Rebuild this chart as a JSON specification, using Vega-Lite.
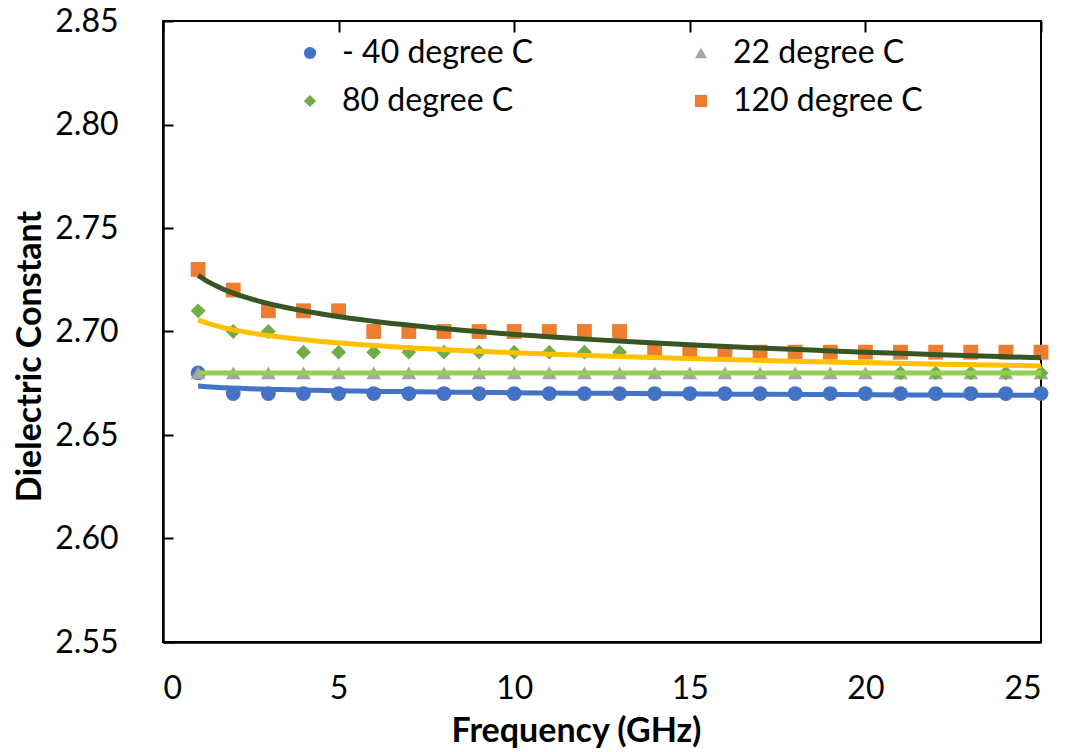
{
  "$schema": "https://vega.github.io/schema/vega-lite/v6.json",
  "width": 878,
  "height": 621,
  "autosize": {"type": "none"},
  "padding": {"left": 163, "top": 21, "right": 24, "bottom": 110},
  "background": "white",
  "config": {
    "font": "Lato",
    "view": {"stroke": "#000", "strokeWidth": 2},
    "axis": {
      "domainColor": "#000", "domainWidth": 2.5,
      "ticks": false,
      "labelFont": "Lato", "labelFontSize": 32, "labelColor": "#000",
      "titleFont": "Lato", "titleFontSize": 34, "titleFontWeight": "bold", "titleColor": "#000"
    },
    "legend": {
      "labelFont": "Lato", "labelFontSize": 32, "labelColor": "#000", "labelLimit": 0
    }
  },
  "data": {
    "values": [
      {"series": "- 40 degree C", "freq": 1, "value": 2.68},
      {"series": "- 40 degree C", "freq": 2, "value": 2.67},
      {"series": "- 40 degree C", "freq": 3, "value": 2.67},
      {"series": "- 40 degree C", "freq": 4, "value": 2.67},
      {"series": "- 40 degree C", "freq": 5, "value": 2.67},
      {"series": "- 40 degree C", "freq": 6, "value": 2.67},
      {"series": "- 40 degree C", "freq": 7, "value": 2.67},
      {"series": "- 40 degree C", "freq": 8, "value": 2.67},
      {"series": "- 40 degree C", "freq": 9, "value": 2.67},
      {"series": "- 40 degree C", "freq": 10, "value": 2.67},
      {"series": "- 40 degree C", "freq": 11, "value": 2.67},
      {"series": "- 40 degree C", "freq": 12, "value": 2.67},
      {"series": "- 40 degree C", "freq": 13, "value": 2.67},
      {"series": "- 40 degree C", "freq": 14, "value": 2.67},
      {"series": "- 40 degree C", "freq": 15, "value": 2.67},
      {"series": "- 40 degree C", "freq": 16, "value": 2.67},
      {"series": "- 40 degree C", "freq": 17, "value": 2.67},
      {"series": "- 40 degree C", "freq": 18, "value": 2.67},
      {"series": "- 40 degree C", "freq": 19, "value": 2.67},
      {"series": "- 40 degree C", "freq": 20, "value": 2.67},
      {"series": "- 40 degree C", "freq": 21, "value": 2.67},
      {"series": "- 40 degree C", "freq": 22, "value": 2.67},
      {"series": "- 40 degree C", "freq": 23, "value": 2.67},
      {"series": "- 40 degree C", "freq": 24, "value": 2.67},
      {"series": "- 40 degree C", "freq": 25, "value": 2.67},
      {"series": "22 degree C", "freq": 1, "value": 2.68},
      {"series": "22 degree C", "freq": 2, "value": 2.68},
      {"series": "22 degree C", "freq": 3, "value": 2.68},
      {"series": "22 degree C", "freq": 4, "value": 2.68},
      {"series": "22 degree C", "freq": 5, "value": 2.68},
      {"series": "22 degree C", "freq": 6, "value": 2.68},
      {"series": "22 degree C", "freq": 7, "value": 2.68},
      {"series": "22 degree C", "freq": 8, "value": 2.68},
      {"series": "22 degree C", "freq": 9, "value": 2.68},
      {"series": "22 degree C", "freq": 10, "value": 2.68},
      {"series": "22 degree C", "freq": 11, "value": 2.68},
      {"series": "22 degree C", "freq": 12, "value": 2.68},
      {"series": "22 degree C", "freq": 13, "value": 2.68},
      {"series": "22 degree C", "freq": 14, "value": 2.68},
      {"series": "22 degree C", "freq": 15, "value": 2.68},
      {"series": "22 degree C", "freq": 16, "value": 2.68},
      {"series": "22 degree C", "freq": 17, "value": 2.68},
      {"series": "22 degree C", "freq": 18, "value": 2.68},
      {"series": "22 degree C", "freq": 19, "value": 2.68},
      {"series": "22 degree C", "freq": 20, "value": 2.68},
      {"series": "22 degree C", "freq": 21, "value": 2.68},
      {"series": "22 degree C", "freq": 22, "value": 2.68},
      {"series": "22 degree C", "freq": 23, "value": 2.68},
      {"series": "22 degree C", "freq": 24, "value": 2.68},
      {"series": "22 degree C", "freq": 25, "value": 2.68},
      {"series": "80 degree C", "freq": 1, "value": 2.71},
      {"series": "80 degree C", "freq": 2, "value": 2.70},
      {"series": "80 degree C", "freq": 3, "value": 2.70},
      {"series": "80 degree C", "freq": 4, "value": 2.69},
      {"series": "80 degree C", "freq": 5, "value": 2.69},
      {"series": "80 degree C", "freq": 6, "value": 2.69},
      {"series": "80 degree C", "freq": 7, "value": 2.69},
      {"series": "80 degree C", "freq": 8, "value": 2.69},
      {"series": "80 degree C", "freq": 9, "value": 2.69},
      {"series": "80 degree C", "freq": 10, "value": 2.69},
      {"series": "80 degree C", "freq": 11, "value": 2.69},
      {"series": "80 degree C", "freq": 12, "value": 2.69},
      {"series": "80 degree C", "freq": 13, "value": 2.69},
      {"series": "80 degree C", "freq": 14, "value": 2.69},
      {"series": "80 degree C", "freq": 15, "value": 2.69},
      {"series": "80 degree C", "freq": 16, "value": 2.69},
      {"series": "80 degree C", "freq": 17, "value": 2.69},
      {"series": "80 degree C", "freq": 18, "value": 2.69},
      {"series": "80 degree C", "freq": 19, "value": 2.69},
      {"series": "80 degree C", "freq": 20, "value": 2.69},
      {"series": "80 degree C", "freq": 21, "value": 2.68},
      {"series": "80 degree C", "freq": 22, "value": 2.68},
      {"series": "80 degree C", "freq": 23, "value": 2.68},
      {"series": "80 degree C", "freq": 24, "value": 2.68},
      {"series": "80 degree C", "freq": 25, "value": 2.68},
      {"series": "120 degree C", "freq": 1, "value": 2.73},
      {"series": "120 degree C", "freq": 2, "value": 2.72},
      {"series": "120 degree C", "freq": 3, "value": 2.71},
      {"series": "120 degree C", "freq": 4, "value": 2.71},
      {"series": "120 degree C", "freq": 5, "value": 2.71},
      {"series": "120 degree C", "freq": 6, "value": 2.70},
      {"series": "120 degree C", "freq": 7, "value": 2.70},
      {"series": "120 degree C", "freq": 8, "value": 2.70},
      {"series": "120 degree C", "freq": 9, "value": 2.70},
      {"series": "120 degree C", "freq": 10, "value": 2.70},
      {"series": "120 degree C", "freq": 11, "value": 2.70},
      {"series": "120 degree C", "freq": 12, "value": 2.70},
      {"series": "120 degree C", "freq": 13, "value": 2.70},
      {"series": "120 degree C", "freq": 14, "value": 2.69},
      {"series": "120 degree C", "freq": 15, "value": 2.69},
      {"series": "120 degree C", "freq": 16, "value": 2.69},
      {"series": "120 degree C", "freq": 17, "value": 2.69},
      {"series": "120 degree C", "freq": 18, "value": 2.69},
      {"series": "120 degree C", "freq": 19, "value": 2.69},
      {"series": "120 degree C", "freq": 20, "value": 2.69},
      {"series": "120 degree C", "freq": 21, "value": 2.69},
      {"series": "120 degree C", "freq": 22, "value": 2.69},
      {"series": "120 degree C", "freq": 23, "value": 2.69},
      {"series": "120 degree C", "freq": 24, "value": 2.69},
      {"series": "120 degree C", "freq": 25, "value": 2.69}
    ]
  },
  "layer": [
    {
      "mark": {"type": "point", "filled": true, "size": 220, "opacity": 1},
      "encoding": {
        "x": {
          "field": "freq", "type": "quantitative",
          "scale": {"domain": [0, 25], "nice": false},
          "axis": {
            "orient": "bottom",
            "title": "Frequency (GHz)",
            "values": [0, 5, 10, 15, 20, 25],
            "grid": true, "gridColor": "#000", "gridWidth": 2, "gridOpacity": 1,
            "gridDash": [11, 2000],
            "labelPadding": 31,
            "titleX": 413, "titleY": 89,
            "titleBaseline": "middle", "titleAlign": "center"
          }
        },
        "y": {
          "field": "value", "type": "quantitative",
          "scale": {"domain": [2.55, 2.85], "nice": false, "zero": false},
          "axis": {
            "orient": "left",
            "title": "Dielectric Constant",
            "values": [2.55, 2.6, 2.65, 2.7, 2.75, 2.8, 2.85],
            "format": ".2f",
            "grid": true, "gridColor": "#000", "gridWidth": 2, "gridOpacity": 1,
            "gridDash": [10, 2000],
            "labelPadding": 45,
            "titleX": -133, "titleY": 335,
            "titleAngle": 270,
            "titleBaseline": "middle", "titleAlign": "center"
          }
        },
        "color": {
          "field": "series", "type": "nominal",
          "scale": {
            "domain": ["- 40 degree C", "22 degree C", "80 degree C", "120 degree C"],
            "range": ["#4472C4", "#A5A5A5", "#70AD47", "#ED7D31"]
          },
          "legend": {
            "title": null, "orient": "none", "legendX": 131, "legendY": 16,
            "direction": "horizontal",
            "columns": 2, "columnPadding": 151, "rowPadding": 16,
            "labelOffset": 16, "symbolSize": 150, "symbolStrokeWidth": 0
          }
        },
        "shape": {
          "field": "series", "type": "nominal",
          "scale": {
            "domain": ["- 40 degree C", "22 degree C", "80 degree C", "120 degree C"],
            "range": ["circle", "triangle-up", "diamond", "square"]
          },
          "legend": {
            "title": null, "orient": "none", "legendX": 131, "legendY": 16,
            "direction": "horizontal",
            "columns": 2, "columnPadding": 151, "rowPadding": 16,
            "labelOffset": 16, "symbolSize": 150, "symbolStrokeWidth": 0
          }
        }
      }
    },
    {
      "transform": [
        {"regression": "value", "on": "freq", "groupby": ["series"], "method": "log"}
      ],
      "mark": {"type": "line", "strokeWidth": 5},
      "encoding": {
        "x": {"field": "freq", "type": "quantitative"},
        "y": {"field": "value", "type": "quantitative"},
        "stroke": {
          "field": "series", "type": "nominal",
          "scale": {
            "domain": ["- 40 degree C", "22 degree C", "80 degree C", "120 degree C"],
            "range": ["#4472C4", "#92D050", "#FFC000", "#375623"]
          },
          "legend": null
        }
      }
    }
  ],
  "resolve": {"scale": {"stroke": "independent"}}
}
